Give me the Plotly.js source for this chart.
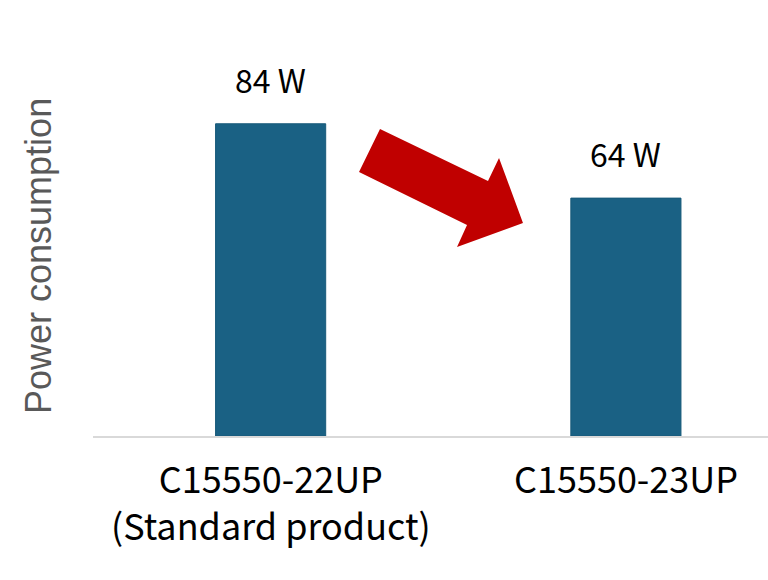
<!DOCTYPE html>
<html>
<head>
<meta charset="utf-8">
<script src="https://cdn.plot.ly/plotly-3.0.1.min.js"></script>
<style>html,body{margin:0;padding:0;background:#fff;}#chart{width:768px;height:580px;}</style>
</head>
<body>
<div id="chart"></div>
<script>
// Data
const categories = ["C15550-22UP", "C15550-23UP"];
const tickLabels = ["C15550-22UP<br>(Standard product)", "C15550-23UP"];
const powerValues = [84, 64];
const valueLabels = ["84 W", "64 W"];
const yAxisTitle = "Power consumption";

// Layout geometry (pixels)
const W = 768, H = 580;
const mL = 93, mR = 0, mT = 20, mB = 144;
const plotW = W - mL - mR, plotH = H - mT - mB;
function px(x) { return (x - mL) / plotW; }
function py(y) { return (H - mB - y) / plotH; }

// Decorative arrow outline (pixel points converted to paper coords)
const arrowPts = [[380,129],[488,181],[499,158],[523,223],[457,247],[467,225],[359,172]];
const arrowPath = arrowPts.map((p,i) => (i ? "L" : "M") + px(p[0]).toFixed(4) + "," + py(p[1]).toFixed(4)).join(" ") + " Z";

const cjk = "Noto Sans CJK JP, sans-serif";

const trace = {
  type: "bar",
  x: categories,
  y: powerValues,
  marker: {color: "#1a6184", line: {color: "#185a7a", width: 1}},
  width: 0.31,
  hoverinfo: "none"
};

const annotations = [];
categories.forEach((c, i) => {
  annotations.push({
    x: c, y: powerValues[i], xref: "x", yref: "y",
    text: valueLabels[i], showarrow: false,
    xanchor: "center", yanchor: "bottom", yshift: 20,
    font: {family: cjk, size: 32, color: "#000000"}
  });
  annotations.push({
    x: c, y: py(449), xref: "x", yref: "paper",
    text: tickLabels[i], showarrow: false,
    xanchor: "center", yanchor: "top", align: "center",
    font: {family: cjk, size: 36, color: "#000000"}
  });
});
annotations.push({
  x: px(38), y: py(256), xref: "paper", yref: "paper",
  text: yAxisTitle, showarrow: false, textangle: -90,
  xanchor: "center", yanchor: "middle",
  font: {family: "Liberation Sans, Arial, sans-serif", size: 36, color: "#595959"}
});

const layout = {
  width: W, height: H,
  margin: {l: mL, r: mR, t: mT, b: mB, pad: 0},
  paper_bgcolor: "#ffffff",
  plot_bgcolor: "#ffffff",
  showlegend: false,
  xaxis: {
    type: "category",
    range: [-0.5, 1.4],
    showgrid: false,
    zeroline: false,
    showline: true,
    linecolor: "#d9d9d9",
    linewidth: 2,
    ticks: "",
    showticklabels: false,
    fixedrange: true
  },
  yaxis: {
    range: [0, plotH / 3.717],
    showgrid: false,
    zeroline: false,
    showline: false,
    showticklabels: false,
    ticks: "",
    fixedrange: true
  },
  annotations: annotations,
  shapes: [{
    type: "path",
    xref: "paper", yref: "paper",
    path: arrowPath,
    fillcolor: "#c00000",
    line: {width: 0}
  }]
};

Plotly.newPlot("chart", [trace], layout, {displayModeBar: false, staticPlot: true});
</script>
</body>
</html>
